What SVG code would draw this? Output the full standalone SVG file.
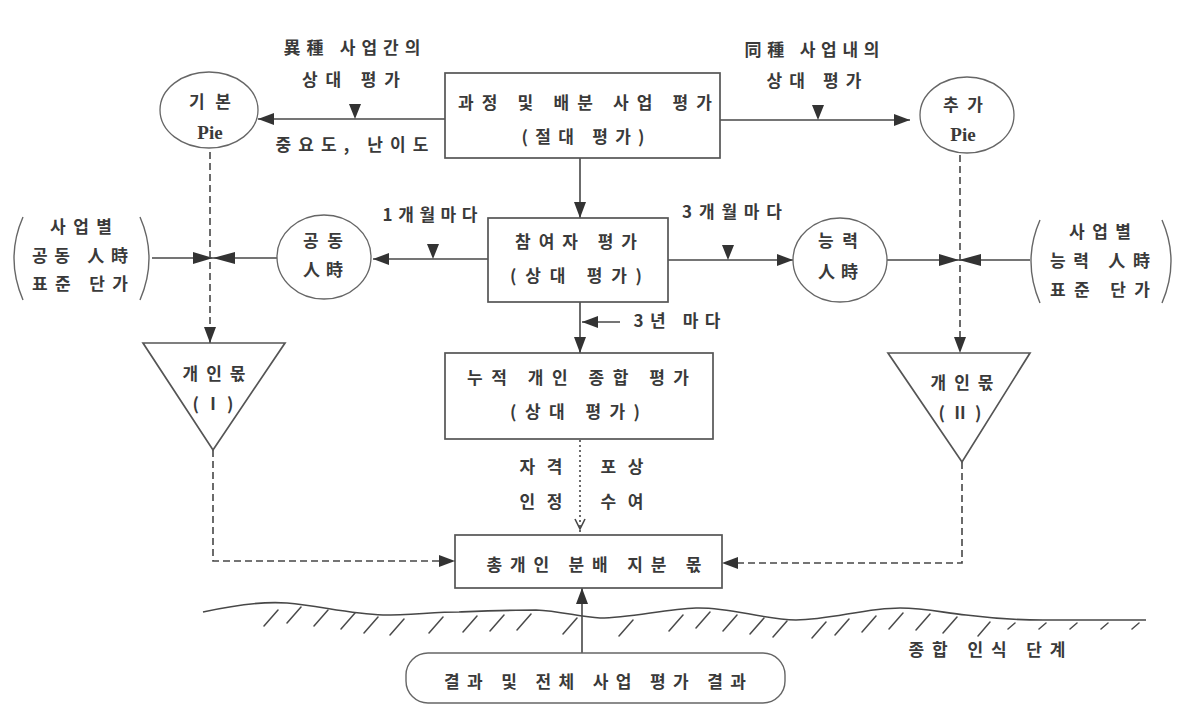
<svg xmlns="http://www.w3.org/2000/svg" width="1185" height="713" viewBox="0 0 1185 713">
<style>
.t{font-family:"Noto Sans CJK KR","Noto Sans",sans-serif;font-size:17px;font-weight:700;fill:#3a3a3a;text-anchor:middle}
.lat{font-family:"Liberation Serif",serif;font-size:19px;font-weight:700;fill:#3a3a3a;text-anchor:middle}
.ln{stroke:#474747;stroke-width:1.6;fill:none}
.dash{stroke-dasharray:7 4}
.dot{stroke-dasharray:2 3}
.box{fill:none;stroke:#555;stroke-width:1.7}
.ell{fill:none;stroke:#666;stroke-width:1.3}
.br{fill:none;stroke:#666;stroke-width:1.4}
.mk{fill:#333}
.hat{stroke:#4a4a4a;stroke-width:1.5;fill:none;stroke-linecap:round}
</style>
<defs>
<marker id="ah" viewBox="0 0 16 12" refX="16" refY="6" markerWidth="16" markerHeight="12" markerUnits="userSpaceOnUse" orient="auto"><path d="M0,0 L16,6 L0,12 z" fill="#333"/></marker>
<path id="tick" d="M-6,-15 L6,-15 L0,0 z"/>
<path id="bow" d="M-20,-6 L0,0 L-20,6 z M22,-6 L0,0 L22,6 z"/>
</defs>
<rect width="1185" height="713" fill="#ffffff"/>

<g id="connectors">
<path class="ln" d="M445,119 H258" marker-end="url(#ah)"/>
<path class="ln" d="M720,120 H910" marker-end="url(#ah)"/>
<use href="#tick" class="mk" x="355" y="119"/>
<use href="#tick" class="mk" x="818" y="120"/>
<path class="ln" d="M580,158 V218" marker-end="url(#ah)"/>
<path class="ln" d="M488,259 H373" marker-end="url(#ah)"/>
<use href="#tick" class="mk" x="433" y="259"/>
<path class="ln" d="M668,260 H793" marker-end="url(#ah)"/>
<use href="#tick" class="mk" x="728" y="260"/>
<path class="ln" d="M277,258 H152"/>
<path class="ln" d="M887,260 H1030"/>
<use href="#bow" class="mk" x="213" y="258"/>
<use href="#bow" class="mk" x="959" y="260"/>
<path class="ln dash" d="M210,152 V343" marker-end="url(#ah)"/>
<path class="ln dash" d="M960,155 V353" marker-end="url(#ah)"/>
<path class="ln" d="M580,302 V353" marker-end="url(#ah)"/>
<path class="ln" d="M620,322 H582" marker-end="url(#ah)"/>
<path class="ln dot" d="M580,440 V532"/>
<path class="ln" d="M575,519 L580,529 L585,519"/>
<path class="ln dash" d="M213,450 V561 H455" marker-end="url(#ah)"/>
<path class="ln dash" d="M962,462 V563 H722" marker-end="url(#ah)"/>
<path class="ln" d="M582,653 V588" marker-end="url(#ah)"/>
</g>

<g id="edge-labels">
<text class="t" x="352" y="54" textLength="137" lengthAdjust="spacing">異種 사업간의</text>
<text class="t" x="351" y="86" textLength="98" lengthAdjust="spacing">상대 평가</text>
<text class="t" x="812" y="56" textLength="135" lengthAdjust="spacing">同種 사업내의</text>
<text class="t" x="814" y="87" textLength="95" lengthAdjust="spacing">상대 평가</text>
<text class="t" x="352" y="151" textLength="153" lengthAdjust="spacing">중요도, 난이도</text>
<text class="t" x="430" y="221" textLength="95" lengthAdjust="spacing">1개월마다</text>
<text class="t" x="732" y="218" textLength="100" lengthAdjust="spacing">3개월마다</text>
<text class="t" x="677" y="327" textLength="87" lengthAdjust="spacing">3년 마다</text>
<text class="t" x="541" y="473" textLength="43" lengthAdjust="spacing">자격</text>
<text class="t" x="541" y="508" textLength="43" lengthAdjust="spacing">인정</text>
<text class="t" x="622" y="473" textLength="43" lengthAdjust="spacing">포상</text>
<text class="t" x="622" y="508" textLength="43" lengthAdjust="spacing">수여</text>
</g>

<g id="eval-process">
<rect class="box" x="445" y="73" width="275" height="85"/>
<text class="t" x="585" y="109" textLength="254" lengthAdjust="spacing">과정 및 배분 사업 평가</text>
<text class="t" x="583" y="143" textLength="123" lengthAdjust="spacing">(절대 평가)</text>
</g>

<g id="pie-basic">
<ellipse class="ell" cx="209" cy="110" rx="49" ry="38"/>
<text class="t" x="210" y="108" textLength="42" lengthAdjust="spacing">기본</text>
<text class="lat" x="210" y="139">Pie</text>
</g>

<g id="pie-extra">
<ellipse class="ell" cx="967" cy="115" rx="47" ry="38"/>
<text class="t" x="963" y="111" textLength="40" lengthAdjust="spacing">추가</text>
<text class="lat" x="963" y="141">Pie</text>
</g>

<g id="participant-eval">
<rect class="box" x="488" y="218" width="180" height="84"/>
<text class="t" x="576" y="248" textLength="122" lengthAdjust="spacing">참여자 평가</text>
<text class="t" x="576" y="282" textLength="132" lengthAdjust="spacing">(상대 평가)</text>
</g>

<g id="common-manhour">
<ellipse class="ell" cx="324" cy="257" rx="47" ry="42"/>
<text class="t" x="323" y="247" textLength="40" lengthAdjust="spacing">공동</text>
<text class="t" x="323" y="276" textLength="40" lengthAdjust="spacing">人時</text>
</g>

<g id="ability-manhour">
<ellipse class="ell" cx="840" cy="260" rx="47" ry="42"/>
<text class="t" x="838" y="247" textLength="40" lengthAdjust="spacing">능력</text>
<text class="t" x="838" y="278" textLength="40" lengthAdjust="spacing">人時</text>
</g>

<g id="common-unit-price">
<path class="br" d="M23,217 Q5,258 23,300"/>
<path class="br" d="M140,217 Q158,258 140,300"/>
<text class="t" x="81" y="233" textLength="62" lengthAdjust="spacing">사업별</text>
<text class="t" x="80" y="262" textLength="96" lengthAdjust="spacing">공동 人時</text>
<text class="t" x="80" y="290" textLength="96" lengthAdjust="spacing">표준 단가</text>
</g>

<g id="ability-unit-price">
<path class="br" d="M1040,220 Q1022,261 1040,303"/>
<path class="br" d="M1162,220 Q1180,261 1162,303"/>
<text class="t" x="1100" y="238" textLength="62" lengthAdjust="spacing">사업별</text>
<text class="t" x="1100" y="267" textLength="100" lengthAdjust="spacing">능력 人時</text>
<text class="t" x="1100" y="296" textLength="100" lengthAdjust="spacing">표준 단가</text>
</g>

<g id="share-1">
<polygon class="box" points="143,343 285,343 213,450"/>
<text class="t" x="214" y="380" textLength="63" lengthAdjust="spacing">개인몫</text>
<text class="t" x="213" y="410" textLength="41" lengthAdjust="spacing">( Ⅰ )</text>
</g>

<g id="share-2">
<polygon class="box" points="888,353 1030,353 962,462"/>
<text class="t" x="962" y="389" textLength="63" lengthAdjust="spacing">개인몫</text>
<text class="t" x="960" y="419" textLength="43" lengthAdjust="spacing">( Ⅱ )</text>
</g>

<g id="cumulative-eval">
<rect class="box" x="445" y="353" width="268" height="86"/>
<text class="t" x="578" y="384" textLength="222" lengthAdjust="spacing">누적 개인 종합 평가</text>
<text class="t" x="575" y="418" textLength="130" lengthAdjust="spacing">(상대 평가)</text>
</g>

<g id="total-share">
<rect class="box" x="455" y="535" width="267" height="53"/>
<text class="t" x="594" y="571" textLength="215" lengthAdjust="spacing">총개인 분배 지분 몫</text>
</g>

<g id="ground">
<path class="ln" d="M203,612 C230,606 260,601 287,603 C320,606 350,614 383,615 C410,615 435,612 459,612 C485,611 510,610 536,610 C560,611 580,617 600,618 C630,618 665,609 696,608 C730,607 760,619 796,620 C830,620 865,608 900,608 C925,608 945,613 966,615 C990,618 1015,620 1043,620 L1146,620"/>
<path class="hat" d="M264,626 l14,-16 M287,623 l14,-16 M314,626 l14,-16 M341,629 l14,-16 M364,633 l14,-16 M390,635 l14,-16 M429,633 l14,-16 M463,632 l14,-16 M490,631 l14,-16 M517,630 l14,-16 M563,634 l14,-16 M619,636 l14,-16 M669,631 l14,-16 M696,628 l14,-16 M723,631 l14,-16 M750,634 l14,-16 M773,637 l14,-16 M812,638 l14,-16 M835,635 l14,-16 M862,632 l14,-16 M889,629 l14,-16 M916,630 l14,-16 M943,633 l14,-16 M978,636 l12,-14 M1008,629 l7,-6 M1039,629 l7,-6 M1070,629 l7,-6 M1101,629 l7,-6 M1132,629 l7,-6"/>
</g>

<g id="synthesis-stage">
<text class="t" x="987" y="656" textLength="157" lengthAdjust="spacing">종합 인식 단계</text>
</g>

<g id="overall-results">
<rect class="br" x="406" y="653" width="379" height="50" rx="22"/>
<text class="t" x="595" y="688" textLength="302" lengthAdjust="spacing">결과 및 전체 사업 평가 결과</text>
</g>
</svg>
